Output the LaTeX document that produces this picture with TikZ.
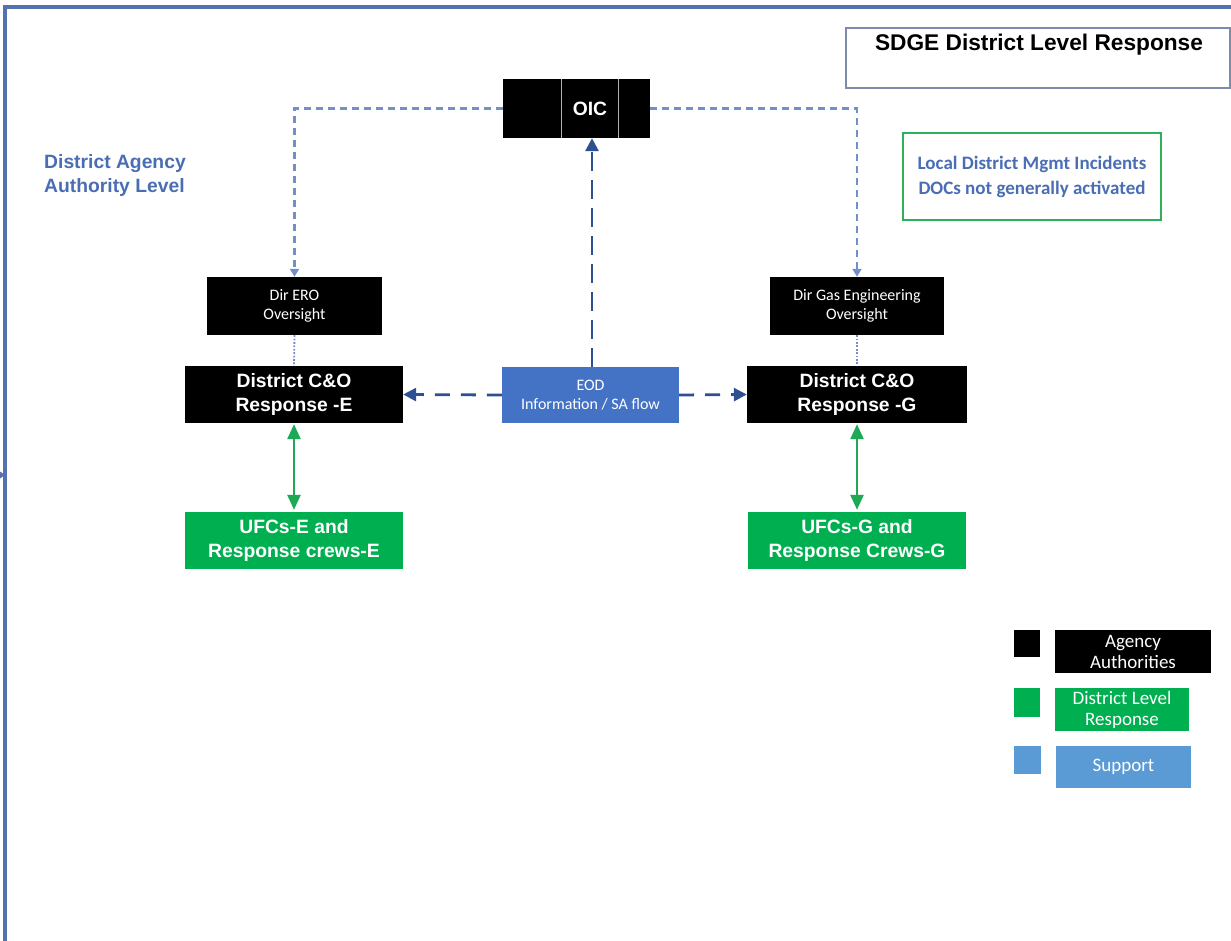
\documentclass[tikz,border=0pt]{standalone}
\usepackage{fontspec}
\newfontfamily\arialfont{Liberation Sans}
\newfontfamily\calfont{Carlito}
\usetikzlibrary{arrows.meta}

\definecolor{framec}{RGB}{85,113,174}
\definecolor{titleborder}{RGB}{125,140,172}
\definecolor{lightdash}{RGB}{112,144,200}
\definecolor{navy}{RGB}{47,80,144}
\definecolor{eodblue}{RGB}{68,114,196}
\definecolor{suppblue}{RGB}{91,155,213}
\definecolor{resgreen}{RGB}{0,176,80}
\definecolor{arrgreen}{RGB}{30,170,85}
\definecolor{labelblue}{RGB}{74,110,180}
\definecolor{notegreen}{RGB}{46,175,90}

\begin{document}
\begin{tikzpicture}[x=1pt,y=-1pt,
  box/.style={rectangle, inner sep=0pt, align=center},
  boldtxt/.style={font=\arialfont\bfseries\fontsize{19.3pt}{24pt}\selectfont},
  smalltxt/.style={font=\calfont\fontsize{16pt}{18.5pt}\selectfont},
  legtxt/.style={font=\calfont\fontsize{19pt}{21pt}\selectfont},
  agencybox/.style={box, fill=black, text=white},
  responsebox/.style={box, fill=resgreen, text=white},
  eodbox/.style={box, fill=eodblue, text=white},
  supportbox/.style={box, fill=suppblue, text=white},
  oicdash/.style={draw=lightdash, line width=2.2pt, dash pattern=on 7pt off 5pt,
    -{Triangle[length=8pt,width=9pt]}},
  dotconn/.style={draw=lightdash, line width=1.8pt, dash pattern=on 1.8pt off 1.6pt},
  navyarrow/.style={draw=navy, line width=2.8pt, -{Triangle[length=13pt,width=13pt]}},
  greenarrow/.style={draw=arrgreen, line width=2.6pt,
    {Triangle[length=15pt,width=13pt]}-{Triangle[length=15pt,width=13pt]},
    shorten <=1pt, shorten >=2pt}
]
\useasboundingbox (0,0) rectangle (1231,941);
\fill[white] (0,0) rectangle (1231,941);

% outer frame (left and top edges)
\draw[framec, line width=3.5pt] (5,945) -- (5,7) -- (1235,7);
\fill[framec] (0,471.5) -- (5,475) -- (0,478.5) -- cycle;

% title
\node[box, draw=titleborder, line width=1.4pt, minimum width=384pt, minimum height=60pt]
  (titlebox) at (1038,58) {};
\node[box, font=\arialfont\bfseries\fontsize{22.7pt}{27pt}\selectfont]
  (titletext) at (1039,45) {SDGE District Level Response};

% side label
\node[box, anchor=west, align=left, text=labelblue, boldtxt]
  (levellabel) at (44,175.5) {District Agency\\Authority Level};

% note box
\node[box, draw=notegreen, line width=2.2pt, minimum width=258pt, minimum height=87pt,
  text=labelblue, font=\calfont\bfseries\fontsize{19pt}{25pt}\selectfont]
  (notebox) at (1032,176.5) {Local District Mgmt Incidents\\DOCs not generally activated};

% OIC, split in three cells with the label in the middle one
\node[agencybox, boldtxt, minimum width=147pt, minimum height=59pt] (oic) at (576.5,108.5) {\hspace*{27pt}OIC};
\draw[black!30, line width=0.9pt] (561,79) -- (561,138);
\draw[black!30, line width=0.9pt] (618,79) -- (618,138);

% directors
\node[agencybox, smalltxt, minimum width=175pt, minimum height=58pt]
  (dire) at (294.5,306) {Dir ERO\\Oversight};
\node[agencybox, smalltxt, minimum width=174pt, minimum height=58pt]
  (dirg) at (857,306) {Dir Gas Engineering\\Oversight};

% district C&O responses
\node[agencybox, boldtxt, minimum width=218pt, minimum height=57pt]
  (coe) at (294,394.5) {District C\&O\\Response -E};
\node[agencybox, boldtxt, minimum width=220pt, minimum height=57pt]
  (cog) at (857,394.5) {District C\&O\\Response -G};

% EOD
\node[eodbox, smalltxt, minimum width=177pt, minimum height=56pt]
  (eod) at (590.5,395) {EOD\\Information / SA flow};

% field crews
\node[responsebox, boldtxt, minimum width=218pt, minimum height=57pt]
  (ufce) at (294,540.5) {UFCs-E and\\Response crews-E};
\node[responsebox, boldtxt, minimum width=218pt, minimum height=57pt]
  (ufcg) at (857,540.5) {UFCs-G and\\Response Crews-G};

% connectors
\draw[oicdash] (oic.west) -| (dire.north);
\draw[oicdash] (oic.east) -| (dirg.north);
\draw[dotconn] (dire.south) -- (coe.north);
\draw[dotconn] (dirg.south) -- (cog.north);
\draw[navyarrow, dash pattern=on 19pt off 9pt] ([xshift=1.5pt]eod.north) -- ([xshift=1.5pt]eod.north |- oic.south);
\draw[navyarrow, dash pattern=on 15pt off 11pt] (eod.west) -- (coe.east);
\draw[navyarrow, dash pattern=on 15pt off 11pt] (eod.east) -- (cog.west);
\draw[greenarrow] (coe.south) -- (ufce.north);
\draw[greenarrow] (cog.south) -- (ufcg.north);

% legend
\node[box, fill=black, minimum width=26pt, minimum height=27pt] (sqagency) at (1027,643.5) {};
\node[agencybox, legtxt, minimum width=156pt, minimum height=43pt]
  (legagency) at (1133,651.5) {Agency\\Authorities};
\node[box, fill=resgreen, minimum width=26pt, minimum height=29pt] (sqdistrict) at (1027,702.5) {};
\node[responsebox, legtxt, minimum width=134pt, minimum height=43pt]
  (legdistrict) at (1122,709.5) {District Level\\Response};
\node[box, fill=suppblue, minimum width=27pt, minimum height=28pt] (sqsupport) at (1027.5,760) {};
\node[supportbox, legtxt, minimum width=135pt, minimum height=42pt]
  (legsupport) at (1123.5,767) {Support};
\end{tikzpicture}
\end{document}
